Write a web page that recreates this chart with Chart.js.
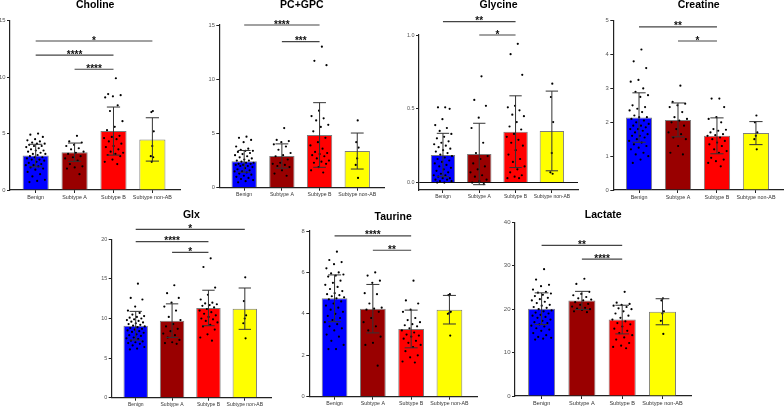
<!DOCTYPE html>
<html>
<head>
<meta charset="utf-8">
<script src="https://cdn.jsdelivr.net/npm/chart.js@4.4.1/dist/chart.umd.min.js"></script>
<style>
  html, body { margin: 0; padding: 0; background: #fff; }
  #stage { position: relative; width: 784px; height: 408px; overflow: hidden; }
  #stage canvas { position: absolute; }
</style>
</head>
<body>
<div id="stage"></div>
<script>
const groups = ['Benign', 'Subtype A', 'Subtype B', 'Subtype non-AB'];

// Choline
const cholineMean = [3.05, 3.35, 5.22, 4.48];
const cholineSD = [1.0, 0.81, 2.13, 1.92];
const cholineTicks = [0, 5, 10, 15];
const cholineSig = [[0, 3, 13.2, '*'], [0, 2, 11.95, '****'], [1, 2, 10.7, '****']];
const cholinePts = [
  [5.0, 4.9, 4.7, 4.5, 4.4, 4.3, 4.2, 4.1, 4.1, 4.0, 3.9, 3.9, 3.8, 3.7, 3.6, 3.5, 3.5, 3.4, 3.3, 3.2, 3.2, 3.1, 3.0, 2.9, 2.9, 2.8, 2.7, 2.7, 2.6, 2.5, 2.4, 2.3, 2.2, 2.2, 2.1, 2.0, 1.9, 1.8, 1.6, 1.4, 1.2, 0.9, 0.8, 0.7],
  [4.8, 4.3, 4.2, 4.0, 3.9, 3.7, 3.6, 3.4, 3.3, 3.2, 3.0, 2.9, 2.8, 2.6, 2.3, 2.1, 2.0, 1.9, 1.4],
  [9.9, 8.5, 8.4, 8.3, 8.2, 7.5, 7.0, 6.1, 5.6, 5.3, 4.8, 4.7, 4.6, 4.5, 4.3, 4.1, 3.9, 3.8, 3.6, 3.4, 3.3, 3.2, 3.1, 3.0, 2.7, 2.5, 2.3],
  [7.0, 6.9, 5.2, 3.9, 3.0, 2.9, 2.5]
];

// PC+GPC
const pcMean = [2.43, 2.92, 4.86, 3.38];
const pcSD = [1.0, 1.12, 2.98, 1.66];
const pcTicks = [0, 5, 10, 15];
const pcSig = [[0, 2, 15.0, '****'], [1, 2, 13.46, '***']];
const pcPts = [
  [4.7, 4.6, 4.4, 4.2, 3.8, 3.6, 3.5, 3.4, 3.4, 3.3, 3.2, 3.1, 3.0, 2.9, 2.8, 2.7, 2.6, 2.5, 2.5, 2.4, 2.3, 2.3, 2.2, 2.2, 2.1, 2.1, 2.0, 2.0, 1.9, 1.8, 1.7, 1.6, 1.5, 1.5, 1.4, 1.3, 1.2, 1.1, 1.0, 0.9, 0.8, 0.7, 0.6, 0.5],
  [5.5, 4.4, 4.3, 4.2, 4.0, 3.8, 3.5, 3.2, 3.0, 2.9, 2.6, 2.3, 2.2, 2.1, 2.0, 1.9, 1.6, 1.3, 1.1],
  [13.0, 11.7, 11.3, 7.1, 6.6, 6.4, 6.2, 5.8, 5.6, 5.2, 4.6, 4.2, 3.9, 3.6, 3.3, 3.2, 3.1, 3.0, 2.9, 2.7, 2.5, 2.4, 2.3, 2.2, 1.9, 1.6, 1.4],
  [6.2, 4.2, 3.7, 2.7, 2.1, 0.9]
];

// Glycine
const glyMean = [0.187, 0.194, 0.345, 0.35];
const glySD = [0.147, 0.208, 0.243, 0.27];
const glyTicks = [0, 0.5, 1.0];
const glySig = [[0, 2, 1.09, '**'], [1, 2, 1.0, '*']];
const glyPts = [
  [0.51, 0.51, 0.50, 0.43, 0.39, 0.37, 0.35, 0.33, 0.31, 0.30, 0.28, 0.27, 0.26, 0.25, 0.24, 0.23, 0.22, 0.21, 0.20, 0.19, 0.18, 0.17, 0.16, 0.15, 0.14, 0.13, 0.12, 0.11, 0.10, 0.09, 0.08, 0.07, 0.06, 0.05, 0.05, 0.04, 0.03, 0.03, 0.02, 0.02, 0.01, 0.01, 0.00, 0.00],
  [0.72, 0.56, 0.52, 0.44, 0.37, 0.27, 0.20, 0.18, 0.16, 0.13, 0.11, 0.09, 0.07, 0.05, 0.04, 0.02, 0.01, 0.00, -0.01],
  [0.94, 0.87, 0.73, 0.52, 0.51, 0.49, 0.46, 0.45, 0.41, 0.38, 0.36, 0.33, 0.31, 0.29, 0.27, 0.25, 0.22, 0.19, 0.16, 0.14, 0.11, 0.09, 0.07, 0.05, 0.04, 0.03, 0.03],
  [0.67, 0.58, 0.41, 0.20, 0.07, 0.06]
];

// Creatine
const creMean = [2.14, 2.07, 1.60, 1.68];
const creSD = [0.73, 0.5, 0.53, 0.34];
const creTicks = [0, 1, 2, 3, 4, 5];
const creSig = [[0, 2, 4.82, '**'], [1, 2, 4.40, '*']];
const crePts = [
  [4.15, 3.8, 3.6, 3.25, 3.2, 3.0, 2.9, 2.8, 2.75, 2.5, 2.45, 2.4, 2.35, 2.3, 2.2, 2.15, 2.15, 2.1, 2.05, 2.0, 1.95, 1.9, 1.9, 1.85, 1.8, 1.8, 1.75, 1.7, 1.65, 1.6, 1.6, 1.55, 1.5, 1.45, 1.4, 1.35, 1.3, 1.25, 1.2, 1.1, 1.05, 1.0, 0.9, 0.8],
  [3.08, 2.6, 2.55, 2.5, 2.45, 2.3, 2.15, 2.1, 2.05, 2.0, 1.9, 1.8, 1.7, 1.65, 1.55, 1.5, 1.3, 1.1, 1.05],
  [2.7, 2.7, 2.45, 2.15, 2.1, 2.0, 1.8, 1.78, 1.75, 1.7, 1.65, 1.62, 1.6, 1.55, 1.5, 1.45, 1.4, 1.35, 1.3, 1.2, 1.15, 1.1, 0.95, 0.9, 0.85, 0.8, 0.7],
  [2.2, 2.0, 1.7, 1.6, 1.5, 1.2]
];

// Glx
const glxMean = [9.09, 9.73, 11.33, 11.24];
const glxSD = [1.81, 2.12, 2.24, 2.61];
const glxTicks = [0, 5, 10, 15, 20];
const glxSig = [[0, 3, 21.26, '*'], [0, 2, 19.7, '****'], [1, 2, 18.36, '*']];
const glxPts = [
  [14.4, 12.6, 12.4, 11.5, 11.0, 10.7, 10.5, 10.3, 10.2, 10.1, 10.0, 9.9, 9.8, 9.7, 9.6, 9.5, 9.4, 9.3, 9.2, 9.1, 9.0, 8.9, 8.8, 8.7, 8.6, 8.5, 8.4, 8.3, 8.2, 8.0, 7.9, 7.8, 7.6, 7.5, 7.4, 7.2, 7.1, 7.0, 6.9, 6.8, 6.6, 6.4, 6.2, 6.1],
  [14.2, 13.2, 12.6, 12.0, 11.5, 11.0, 10.2, 9.8, 9.3, 9.0, 8.7, 8.4, 8.1, 7.9, 7.6, 7.3, 7.0, 6.9, 6.8],
  [17.6, 16.5, 13.9, 13.0, 12.4, 12.0, 11.9, 11.8, 11.7, 11.6, 11.4, 11.2, 11.0, 10.8, 10.6, 10.4, 10.2, 10.0, 9.9, 9.7, 9.5, 9.2, 9.0, 8.6, 8.0, 7.6, 7.2],
  [15.2, 12.2, 10.4, 10.0, 9.4, 7.5]
];

// Taurine
const tauMean = [4.75, 4.25, 3.27, 4.2];
const tauSD = [1.13, 1.17, 0.91, 0.69];
const tauTicks = [0, 2, 4, 6, 8];
const tauSig = [[0, 2, 7.76, '****'], [1, 2, 7.07, '**']];
const tauPts = [
  [7.0, 6.6, 6.5, 6.4, 6.2, 6.0, 5.95, 5.9, 5.85, 5.8, 5.6, 5.5, 5.4, 5.3, 5.2, 5.1, 5.0, 4.95, 4.9, 4.85, 4.8, 4.75, 4.7, 4.6, 4.5, 4.4, 4.3, 4.2, 4.1, 4.0, 3.9, 3.8, 3.7, 3.6, 3.5, 3.4, 3.3, 3.2, 3.0, 2.9, 2.7, 2.5, 2.3, 2.3],
  [6.0, 5.85, 5.6, 5.5, 5.0, 4.95, 4.5, 4.3, 4.25, 4.2, 4.1, 3.8, 3.6, 3.4, 3.2, 2.9, 2.6, 2.5, 1.5],
  [5.6, 4.65, 4.5, 4.2, 4.1, 3.8, 3.7, 3.6, 3.5, 3.45, 3.4, 3.3, 3.2, 3.1, 3.0, 2.95, 2.9, 2.8, 2.7, 2.6, 2.5, 2.4, 2.2, 2.0, 1.9, 1.7, 1.65],
  [4.95, 4.9, 4.1, 4.05, 4.0, 2.95]
];

// Lactate
const lacMean = [20.1, 22.0, 17.6, 19.4];
const lacSD = [3.65, 2.1, 3.3, 3.0];
const lacTicks = [0, 10, 20, 30, 40];
const lacSig = [[0, 2, 34.7, '**'], [1, 2, 31.5, '****']];
const lacPts = [
  [29.2, 26.8, 25.6, 25.3, 24.5, 24.0, 23.8, 23.6, 23.3, 23.0, 22.6, 22.3, 22.0, 21.7, 21.4, 21.0, 20.8, 20.5, 20.3, 20.0, 19.7, 19.5, 19.2, 19.0, 18.7, 18.5, 18.2, 18.0, 17.6, 17.3, 17.0, 16.8, 16.5, 16.2, 16.0, 15.6, 15.3, 15.0, 14.5, 14.0, 13.6, 13.4, 13.2, 13.0],
  [27.0, 25.8, 24.0, 23.5, 23.2, 22.8, 22.5, 22.2, 22.0, 21.6, 21.2, 21.0, 20.6, 20.3, 20.1, 20.0, 19.8, 19.5, 19.3],
  [24.0, 21.5, 21.2, 21.0, 20.8, 20.5, 20.2, 20.0, 19.5, 19.0, 18.5, 18.0, 17.6, 17.2, 16.8, 16.5, 16.0, 15.5, 15.0, 14.5, 14.0, 13.5, 13.0, 12.2, 11.6, 11.3, 11.0],
  [22.5, 22.0, 19.5, 19.0, 17.3, 14.3]
];

const barColors = ['#0000ff', '#990000', '#ff0000', '#ffff00'];

// 1. Panels: data + where each plot area sits on the page [left, top, right, bottom, titleY]
const panels = [
  { title: 'Choline', mean: cholineMean, sd: cholineSD, pts: cholinePts, sig: cholineSig, ticks: cholineTicks, dec: 0, min: 0, max: 15, box: [10, 20.7, 180.4, 190, 5.2] },
  { title: 'PC+GPC', mean: pcMean, sd: pcSD, pts: pcPts, sig: pcSig, ticks: pcTicks, dec: 0, min: 0, max: 15, box: [219.3, 25, 384.4, 187.7, 5.2] },
  { title: 'Glycine', mean: glyMean, sd: glySD, pts: glyPts, sig: glySig, ticks: glyTicks, dec: 1, min: -0.05, max: 1.0, zero: true, box: [419, 35, 578, 190, 5.2] },
  { title: 'Creatine', mean: creMean, sd: creSD, pts: crePts, sig: creSig, ticks: creTicks, dec: 0, min: 0, max: 5, box: [613.3, 20.7, 784, 190, 5.2] },
  { title: 'Glx', mean: glxMean, sd: glxSD, pts: glxPts, sig: glxSig, ticks: glxTicks, dec: 0, min: 0, max: 20, box: [111.7, 239.3, 271, 397.7, 215] },
  { title: 'Taurine', mean: tauMean, sd: tauSD, pts: tauPts, sig: tauSig, ticks: tauTicks, dec: 0, min: 0, max: 8, box: [309.3, 231, 477, 396.7, 217] },
  { title: 'Lactate', mean: lacMean, sd: lacSD, pts: lacPts, sig: lacSig, ticks: lacTicks, dec: 0, min: 0, max: 40, box: [515, 222.3, 691.5, 396, 215] }
];

Chart.defaults.font.family = '"Liberation Sans", Arial, sans-serif';

const YW = 18, XH = 14, TOP = 30, RP = 6;
const XMIN = -0.66, XMAX = 3.72;
const stage = document.getElementById('stage');

// 2. One bar + scatter chart per metabolite
panels.forEach(p => {
  const [L, T, R, B, TY] = p.box;
  const unitPx = (R - L) / (XMAX - XMIN);   // each panel is drawn at a slightly different scale
  const cl = Math.floor(L - YW), ct = Math.floor(Math.min(T - TOP, TY - 10));
  const w = Math.ceil(R + RP - cl), h = Math.ceil(B + XH - ct);
  const cv = document.createElement('canvas');
  cv.width = w; cv.height = h;
  cv.style.left = cl + 'px'; cv.style.top = ct + 'px';
  cv.style.width = w + 'px'; cv.style.height = h + 'px';
  stage.appendChild(cv);

  // spread the dots across the bar (golden-ratio sequence, layout only)
  const dots = [];
  p.pts.forEach((arr, i) => {
    const spread = arr.length > 12 ? 0.26 : 0.05;
    arr.forEach((v, k) => {
      dots.push({ x: i + spread * ((((k + 1) * 0.618) % 1) * 2 - 1), y: v });
    });
  });

  const annot = {
    id: 'annot',
    afterDatasetsDraw(chart) {
      const { ctx, chartArea, scales: { x, y } } = chart;
      const unit = x.getPixelForValue(1) - x.getPixelForValue(0);
      const cap = unit * 0.17;
      ctx.save();
      // mean ± SD
      ctx.strokeStyle = '#333';
      ctx.lineWidth = 1;
      p.mean.forEach((m, i) => {
        const cx = x.getPixelForValue(i);
        const hi = y.getPixelForValue(m + p.sd[i]);
        const lo = y.getPixelForValue(m - p.sd[i]);
        ctx.beginPath();
        ctx.moveTo(cx, hi); ctx.lineTo(cx, lo);
        ctx.moveTo(cx - cap, hi); ctx.lineTo(cx + cap, hi);
        ctx.moveTo(cx - cap, lo); ctx.lineTo(cx + cap, lo);
        ctx.stroke();
      });
      // significance brackets
      ctx.strokeStyle = '#444';
      ctx.lineWidth = 1.2;
      ctx.fillStyle = '#111';
      ctx.font = 'bold 10px "Liberation Sans", Arial, sans-serif';
      ctx.textAlign = 'center';
      ctx.textBaseline = 'alphabetic';
      p.sig.forEach(([a, b, v, stars]) => {
        const x1 = x.getPixelForValue(a), x2 = x.getPixelForValue(b), ly = y.getPixelForValue(v);
        ctx.beginPath();
        ctx.moveTo(x1, ly); ctx.lineTo(x2, ly);
        ctx.stroke();
        ctx.fillText(stars, (x1 + x2) / 2, ly + 2.5);
      });
      // title
      ctx.fillStyle = '#000';
      ctx.font = 'bold 10.5px "Liberation Sans", Arial, sans-serif';
      ctx.textBaseline = 'middle';
      ctx.fillText(p.title, (chartArea.left + chartArea.right) / 2, TY - ct);
      ctx.restore();
    }
  };

  new Chart(cv.getContext('2d'), {
    type: 'bar',
    data: {
      datasets: [{
        type: 'scatter',
        data: dots,
        backgroundColor: '#000',
        borderColor: '#000',
        pointRadius: 1.1,
        pointBorderWidth: 0,
        showLine: false
      }, {
        type: 'bar',
        data: p.mean.map((m, i) => ({ x: i, y: m })),
        backgroundColor: barColors,
        borderColor: '#7d7d7d',
        borderWidth: 1,
        barPercentage: 0.84,
        categoryPercentage: 0.8
      }]
    },
    options: {
      responsive: false,
      animation: false,
      devicePixelRatio: 1,
      layout: { padding: { left: L - YW - cl, top: T - ct, right: cl + w - R, bottom: ct + h - B - XH } },
      plugins: { legend: { display: false }, tooltip: { enabled: false }, title: { display: false } },
      scales: {
        x: {
          type: 'linear', min: XMIN, max: XMAX, offset: false,
          afterFit: s => { s.height = XH; },
          afterBuildTicks: s => { s.ticks = groups.map((g, i) => ({ value: i })); },
          ticks: { callback: v => groups[v], autoSkip: false, maxRotation: 0, minRotation: 0, padding: 1, font: { size: unitPx * 0.138 }, color: '#333' },
          grid: { offset: false, drawOnChartArea: false, tickLength: 3, color: '#222' },
          border: { color: '#222', width: 1.2 }
        },
        y: {
          min: p.min, max: p.max,
          afterFit: s => { s.width = YW; },
          afterBuildTicks: s => { s.ticks = p.ticks.map(v => ({ value: v })); },
          ticks: { callback: v => v.toFixed(p.dec), padding: 1.5, font: { size: unitPx * 0.15 }, color: '#555' },
          grid: {
            drawOnChartArea: !!p.zero,
            color: c => (p.zero && c.tick && c.tick.value === 0) ? '#111' : 'rgba(0,0,0,0)',
            tickColor: '#222', tickLength: 3
          },
          border: { color: '#222', width: 1.2 }
        }
      }
    },
    plugins: [annot]
  });
});
</script>
</body>
</html>
